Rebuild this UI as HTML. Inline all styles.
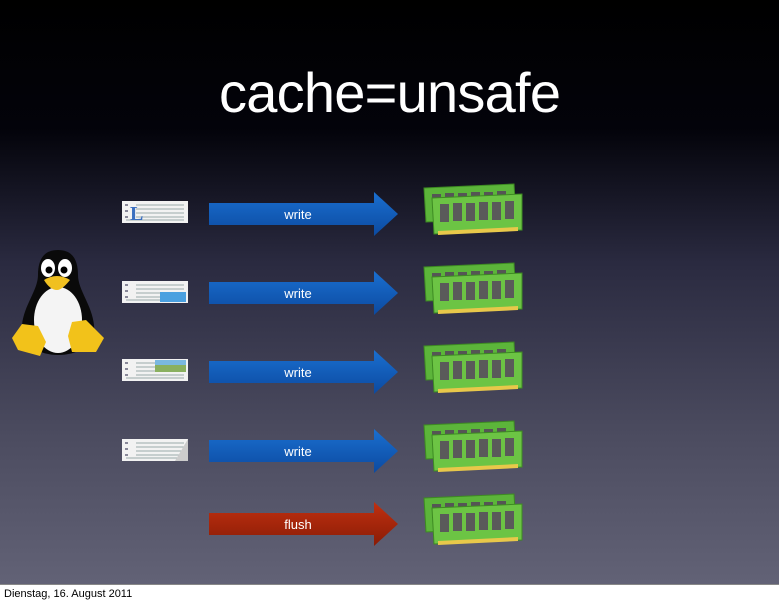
<!DOCTYPE html>
<html><head><style>
html,body{margin:0;padding:0;width:779px;height:600px;overflow:hidden;background:#fff}
</style></head><body>
<svg width="779" height="600" viewBox="0 0 779 600" xmlns="http://www.w3.org/2000/svg" font-family="Liberation Sans, sans-serif">
<defs>
<linearGradient id="bg" x1="0" y1="0" x2="0" y2="1">
<stop offset="0" stop-color="#000"/><stop offset="0.22" stop-color="#03030a"/><stop offset="0.45" stop-color="#2a2a40"/><stop offset="0.75" stop-color="#4c4c60"/><stop offset="1" stop-color="#626276"/>
</linearGradient>
<linearGradient id="blue" x1="0" y1="0" x2="0" y2="1"><stop offset="0" stop-color="#1a6fd0"/><stop offset="1" stop-color="#0c4aa0"/></linearGradient>
<linearGradient id="red" x1="0" y1="0" x2="0" y2="1"><stop offset="0" stop-color="#c03010"/><stop offset="1" stop-color="#8a1c06"/></linearGradient>
<g id="ram">
<path d="M6,-26 L96,-30 L98,4 L8,8 Z" fill="#5cb53a" stroke="#3d8a22" stroke-width="1"/>
<g fill="#555">
<rect x="14" y="-20" width="9" height="14"/><rect x="27" y="-21" width="9" height="14"/><rect x="40" y="-21" width="9" height="14"/><rect x="53" y="-22" width="9" height="14"/><rect x="66" y="-22" width="9" height="14"/><rect x="79" y="-23" width="9" height="14"/>
</g>
<path d="M14,-16 L104,-20 L104,16 L16,20 Z" fill="#6cc444" stroke="#3d8a22" stroke-width="1"/>
<g fill="#5a5a5a">
<rect x="22" y="-10" width="9" height="18"/><rect x="35" y="-11" width="9" height="18"/><rect x="48" y="-11" width="9" height="18"/><rect x="61" y="-12" width="9" height="18"/><rect x="74" y="-12" width="9" height="18"/><rect x="87" y="-13" width="9" height="18"/>
</g>
<path d="M20,17 L100,13 L100,17 L20,21 Z" fill="#e8c84a"/>
</g>
<g id="doc">
<rect x="0" y="0" width="66" height="22" fill="#f2f2f2"/>
<g stroke="#9aa" stroke-width="1">
<line x1="14" y1="4" x2="62" y2="4"/><line x1="14" y1="8" x2="62" y2="8"/><line x1="14" y1="12" x2="62" y2="12"/><line x1="14" y1="16" x2="62" y2="16"/><line x1="4" y1="19" x2="62" y2="19"/>
</g>
<g fill="#889"><rect x="3" y="3" width="3" height="2"/><rect x="3" y="9" width="3" height="2"/><rect x="3" y="15" width="3" height="2"/></g>
</g>
</defs>
<rect x="0" y="0" width="779" height="584" fill="url(#bg)"/>
<rect x="0" y="584" width="779" height="16" fill="#fff"/>
<line x1="0" y1="584.5" x2="779" y2="584.5" stroke="#888"/>
<text x="4" y="597" font-size="11" fill="#000">Dienstag, 16. August 2011</text>
<text x="390" y="112" font-size="56" fill="#fff" text-anchor="middle" textLength="342" font-family="Liberation Sans, sans-serif">cache=unsafe</text>

<use href="#doc" x="122" y="201"/>
<text x="130" y="220" font-size="20" font-weight="bold" fill="#3a6fc0" font-family="Liberation Serif, serif">L</text>
<use href="#doc" x="122" y="281"/>
<rect x="160" y="292" width="26" height="10" fill="#4aa0e0"/>
<use href="#doc" x="122" y="359"/>
<rect x="155" y="360" width="31" height="12" fill="#8ab060"/>
<rect x="155" y="360" width="31" height="5" fill="#7ab8e0"/>
<use href="#doc" x="122" y="439"/>
<path d="M175,461 L188,439 L188,461 Z" fill="#ccc"/>

<g>
<path d="M209,203 L374,203 L374,192 L398,214 L374,236 L374,225 L209,225 Z" fill="url(#blue)"/>
<text x="298" y="219" font-size="13" fill="#fff" text-anchor="middle">write</text>
<path d="M209,282 L374,282 L374,271 L398,293 L374,315 L374,304 L209,304 Z" fill="url(#blue)"/>
<text x="298" y="298" font-size="13" fill="#fff" text-anchor="middle">write</text>
<path d="M209,361 L374,361 L374,350 L398,372 L374,394 L374,383 L209,383 Z" fill="url(#blue)"/>
<text x="298" y="377" font-size="13" fill="#fff" text-anchor="middle">write</text>
<path d="M209,440 L374,440 L374,429 L398,451 L374,473 L374,462 L209,462 Z" fill="url(#blue)"/>
<text x="298" y="456" font-size="13" fill="#fff" text-anchor="middle">write</text>
<path d="M209,513 L374,513 L374,502 L398,524 L374,546 L374,535 L209,535 Z" fill="url(#red)"/>
<text x="298" y="529" font-size="13" fill="#fff" text-anchor="middle">flush</text>
</g>

<use href="#ram" x="418" y="214"/>
<use href="#ram" x="418" y="293"/>
<use href="#ram" x="418" y="372"/>
<use href="#ram" x="418" y="451"/>
<use href="#ram" x="418" y="524"/>

<g>
<path d="M58,250 C42,250 38,262 38,275 C38,290 24,305 22,325 C20,345 40,355 58,355 C78,355 96,345 94,325 C92,305 78,290 78,275 C78,262 74,250 58,250 Z" fill="#0a0a0a"/>
<ellipse cx="58" cy="320" rx="24" ry="33" fill="#f4f4f4"/>
<ellipse cx="48" cy="268" rx="7" ry="9" fill="#fff"/><ellipse cx="65" cy="268" rx="7" ry="9" fill="#fff"/>
<circle cx="49" cy="270" r="3.5" fill="#000"/><circle cx="64" cy="270" r="3.5" fill="#000"/>
<path d="M44,280 Q57,272 70,280 Q62,290 57,290 Q50,290 44,280 Z" fill="#f0c020"/>
<path d="M12,338 L22,324 L38,326 L46,342 L40,356 L18,350 Z" fill="#f2c21a"/>
<path d="M72,322 L86,320 L104,338 L96,352 L72,352 L68,336 Z" fill="#f2c21a"/>
</g>
</svg>
</body></html>
